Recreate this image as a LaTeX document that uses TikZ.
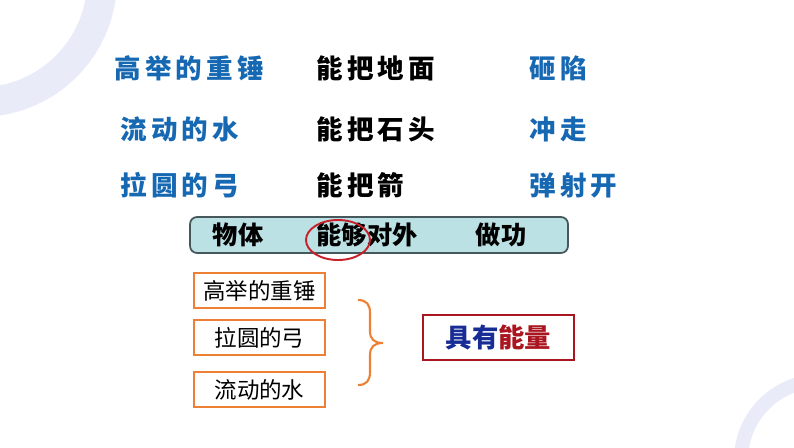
\documentclass[tikz,border=0pt]{standalone}
\usepackage{fontspec}
\newfontfamily\cjk{Noto Sans CJK SC}
\newfontfamily\cjkwide[LetterSpace=16]{Noto Sans CJK SC}
\definecolor{ringlilac}{RGB}{234,235,249}
\definecolor{wordblue}{RGB}{22,104,178}
\definecolor{barfill}{RGB}{188,225,229}
\definecolor{bargray}{RGB}{70,88,92}
\definecolor{circlered}{RGB}{200,32,42}
\definecolor{boxorange}{RGB}{237,128,52}
\definecolor{energyred}{RGB}{170,22,32}
\definecolor{energyblue}{RGB}{24,44,150}
\begin{document}
\begin{tikzpicture}[x=0.02cm,y=-0.02cm,
    word/.style={font=\cjkwide\bfseries\fontsize{15.1}{17}\selectfont, inner sep=0pt, anchor=west},
    subject/.style={word, text=wordblue},
    verb/.style={word, text=black},
    barword/.style={font=\cjk\bfseries\fontsize{14.4}{16}\selectfont, inner sep=0pt},
    itembox/.style={draw=boxorange, line width=1.2pt, minimum width=2.62cm, minimum height=0.7cm,
        inner sep=0pt, font=\cjk\fontsize{12.8}{14}\selectfont}]
    \useasboundingbox (0,0) rectangle (794,447);

    % Draw background rings
    \begin{scope}
        \clip (0,0) rectangle (794,447);
        \draw[ringlilac, line width=17pt] (-20,-20) circle (122);
        \draw[ringlilac, line width=8pt] (820,460) circle (79);
    \end{scope}

    % Three rows of examples
    \node[subject] (hammer) at (114,68) {高举的重锤};
    \node[verb] (hammerdo) at (316,68) {能把地面};
    \node[subject] (hammerres) at (529,68) {砸陷};

    \node[subject] (water) at (120,129) {流动的水};
    \node[verb] (waterdo) at (316,129) {能把石头};
    \node[subject] (waterres) at (529,129) {冲走};

    \node[subject] (bow) at (120,185) {拉圆的弓};
    \node[verb] (bowdo) at (316,185) {能把箭};
    \node[subject] (bowres) at (529,185) {弹射开};

    % Summary bar
    \node[draw=bargray, fill=barfill, line width=1pt, rounded corners=4pt,
        minimum width=7.56cm, minimum height=0.72cm] (bar) at (379,235) {};
    \node[barword] (object) at (238,235) {物体};
    \node[barword] (able) at (367,235) {能够对外};
    \node[barword] (work) at (501,235) {做功};
    \draw[circlered, line width=1.1pt] (338,240) ellipse (32 and 20);

    % Boxes, brace and conclusion
    \node[itembox] (box1) at (259.5,290.5) {高举的重锤};
    \node[itembox] (box2) at (259.5,337.5) {拉圆的弓};
    \node[itembox] (box3) at (259.5,389.5) {流动的水};
    \draw[boxorange, line width=1.2pt] (358,300) .. controls (367,300) and (370,305) .. (370,313)
        -- (370,331) .. controls (370,339) and (374,343) .. (383,343)
        .. controls (374,343) and (370,347) .. (370,355)
        -- (370,372) .. controls (370,380) and (367,385) .. (358,385);
    \node[draw=energyred, line width=1.5pt, minimum width=3.02cm, minimum height=0.9cm,
        font=\cjk\bfseries\fontsize{15}{17}\selectfont] (energy) at (498.5,337.5)
        {\textcolor{energyblue}{具有}\textcolor{energyred}{能量}};
\end{tikzpicture}
\end{document}
